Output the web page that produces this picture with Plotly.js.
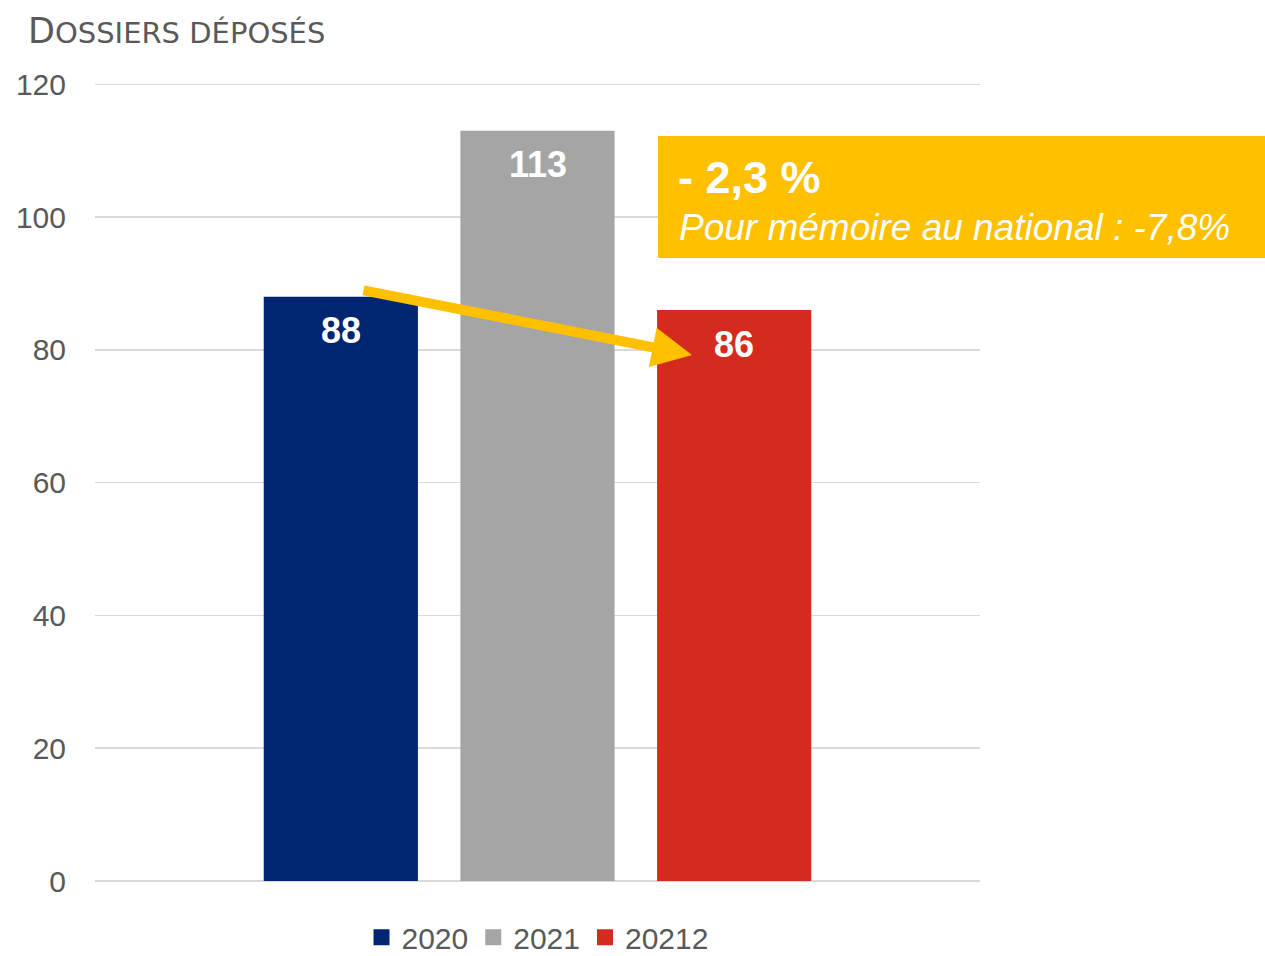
<!DOCTYPE html>
<html>
<head>
<meta charset="utf-8">
<script src="https://cdn.plot.ly/plotly-3.0.1.min.js"></script>
<style>html,body{margin:0;padding:0;background:#fff;}#chart{width:1265px;height:956px;}</style>
</head>
<body>
<div id="chart"></div>
<script>
const seriesNames = ['2020', '2021', '20212'];
const values = [88, 113, 86];
const colors = ['#002672', '#A5A5A5', '#D52B1E'];
const yTicks = [0, 20, 40, 60, 80, 100, 120];
const changeText = '- 2,3 %';
const noteText = 'Pour mémoire au national : -7,8%';
const titleFirst = 'D';
const titleRest = 'OSSIERS DÉPOSÉS';

const traces = seriesNames.map((name, i) => ({
  type: 'bar',
  name: name,
  x: [i],
  y: [values[i]],
  marker: {color: colors[i]},
  showlegend: false,
  hoverinfo: 'none'
}));
// legend entries with square swatches
seriesNames.forEach((name, i) => {
  traces.push({
    type: 'scatter', mode: 'markers', name: name,
    x: [null], y: [null],
    marker: {symbol: 'square', size: 16, color: colors[i]},
    showlegend: true, hoverinfo: 'none'
  });
});

const labelAnnotations = values.map((v, i) => ({
  x: i, y: v, xref: 'x', yref: 'y',
  text: '<b>' + v + '</b>',
  showarrow: false,
  yanchor: 'middle',
  yshift: -34,
  font: {family: 'Liberation Sans, Arial, sans-serif', size: 36, color: '#FFFFFF'}
}));

const layout = {
  width: 1265, height: 956,
  paper_bgcolor: '#FFFFFF', plot_bgcolor: '#FFFFFF',
  margin: {l: 95, r: 285, t: 83, b: 75, autoexpand: false},
  barmode: 'overlay',
  bargap: 0.216,
  title: {
    text: titleFirst + '<span style="font-size:29px">' + titleRest + '</span>',
    x: 28/1265, xref: 'container', xanchor: 'left',
    y: 1 - 31/956, yref: 'container', yanchor: 'middle',
    font: {family: 'DejaVu Sans, sans-serif', size: 35, color: '#595959'}
  },
  xaxis: {
    range: [-1.25, 3.25],
    showticklabels: false, showgrid: false, zeroline: false, showline: false, ticks: '',
    fixedrange: true
  },
  yaxis: {
    range: [0, 120.2],
    tickvals: yTicks,
    showgrid: true, gridcolor: '#D9D9D9', gridwidth: 1.5,
    zeroline: true, zerolinecolor: '#D9D9D9', zerolinewidth: 1.5,
    showline: false, ticks: '',
    ticklabelstandoff: 28,
    tickfont: {family: 'Liberation Sans, Arial, sans-serif', size: 30, color: '#595959'},
    fixedrange: true
  },
  showlegend: true,
  legend: {
    orientation: 'h', x: 0.5, xanchor: 'center', y: -0.038, yanchor: 'top',
    font: {family: 'Liberation Sans, Arial, sans-serif', size: 30, color: '#595959'},
    itemwidth: 30, traceorder: 'normal'
  },
  shapes: [{
    type: 'rect', xref: 'paper', yref: 'paper',
    x0: (658-95)/885, x1: (1265-95)/885,
    y0: (881-258)/798, y1: (881-136)/798,
    fillcolor: '#FFC000', line: {width: 0}, layer: 'above'
  }],
  annotations: labelAnnotations.concat([
    {
      xref: 'paper', yref: 'paper',
      x: (676-95)/885, y: (881-177)/798, xanchor: 'left', yanchor: 'middle',
      text: '<b>' + changeText + '</b>', showarrow: false,
      font: {family: 'Liberation Sans, Arial, sans-serif', size: 45, color: '#FFFFFF'}
    },
    {
      xref: 'paper', yref: 'paper',
      x: (677-95)/885, y: (881-228)/798, xanchor: 'left', yanchor: 'middle',
      text: '<i>' + noteText + '</i>', showarrow: false,
      font: {family: 'Liberation Sans, Arial, sans-serif', size: 37, color: '#FFFFFF'}
    },
    {
      xref: 'paper', yref: 'paper', axref: 'pixel', ayref: 'pixel',
      x: (692-95)/885, y: (881-355)/798,
      ax: 362-692, ay: 290-355,
      text: '', showarrow: true,
      arrowcolor: '#FFC000', arrowwidth: 10, arrowhead: 2, arrowsize: 0.8
    }
  ])
};

Plotly.newPlot('chart', traces, layout, {displayModeBar: false, staticPlot: true});
</script>
</body>
</html>
